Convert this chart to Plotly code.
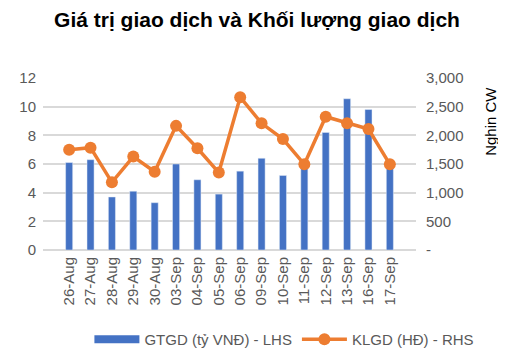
import plotly.graph_objects as go

categories = ["26-Aug", "27-Aug", "28-Aug", "29-Aug", "30-Aug", "03-Sep", "04-Sep", "05-Sep",
              "06-Sep", "09-Sep", "10-Sep", "11-Sep", "12-Sep", "13-Sep", "16-Sep", "17-Sep"]
gtgd = [6.1, 6.3, 3.7, 4.1, 3.3, 6.0, 4.9, 3.9, 5.5, 6.4, 5.2, 5.8, 8.2, 10.55, 9.8, 6.1]
klgd = [1750, 1785, 1180, 1630, 1365, 2165, 1775, 1350, 2665, 2210, 1935, 1495, 2325, 2210, 2110, 1495]
right_tickvals = [0, 500, 1000, 1500, 2000, 2500, 3000]
right_ticktext = ["-", "500", "1,000", "1,500", "2,000", "2,500", "3,000"]

bar_name = "GTGD (tỷ VNĐ) - LHS"
line_name = "KLGD (HĐ) - RHS"
bar_color = "#4472C4"
line_color = "#ED7D31"

fig = go.Figure()
fig.add_trace(go.Bar(x=categories, y=gtgd, name=bar_name, showlegend=False,
                     marker=dict(color=bar_color), width=0.33))
# legend entry for the bars (wide flat swatch like the original)
fig.add_trace(go.Scatter(x=[None], y=[None], name=bar_name, mode="lines",
                         line=dict(color=bar_color, width=8), hoverinfo="skip"))
fig.add_trace(go.Scatter(x=categories, y=klgd, name=line_name, yaxis="y2",
                         mode="lines+markers",
                         line=dict(color=line_color, width=3.5),
                         marker=dict(color=line_color, size=12)))

font_family = "Liberation Sans, Arial, sans-serif"
fig.update_layout(
    width=498, height=351,
    margin=dict(l=35, r=90, t=70, b=109, autoexpand=False),
    paper_bgcolor="white", plot_bgcolor="white",
    font=dict(family=font_family, color="#595959", size=14),
    title=dict(text="<b>Giá trị giao dịch và Khối lượng giao dịch</b>",
               x=0.5, xanchor="center", y=0.966, yanchor="middle",
               font=dict(size=21, color="#000000", family=font_family)),
    xaxis=dict(type="category", categoryorder="array", categoryarray=categories,
               tickangle=-90, showgrid=False, showline=False,
               ticks="", tickfont=dict(size=15, color="#595959"), ticklabelstandoff=3),
    yaxis=dict(range=[0, 12], dtick=2, showgrid=True, gridcolor="#D9D9D9", gridwidth=1.5,
               zeroline=True, zerolinecolor="#D9D9D9", zerolinewidth=1.5,
               tickfont=dict(size=15, color="#595959"), ticks="", ticklabelstandoff=6),
    yaxis2=dict(range=[0, 3000], overlaying="y", side="right", showgrid=False,
                tickvals=right_tickvals, ticktext=right_ticktext, zeroline=False,
                tickfont=dict(size=15, color="#595959"), ticks="", ticklabelstandoff=9),
    legend=dict(orientation="h", x=1.17, xanchor="right", y=-0.52, yanchor="middle",
                font=dict(size=15, color="#595959"), itemwidth=45),
    showlegend=True,
    annotations=[dict(text="Nghin CW", textangle=-90, xref="paper", yref="paper",
                      x=1.198, y=0.75, xanchor="center", yanchor="middle", showarrow=False,
                      font=dict(size=15, color="#000000"))],
)

fig.write_html("out.html")
